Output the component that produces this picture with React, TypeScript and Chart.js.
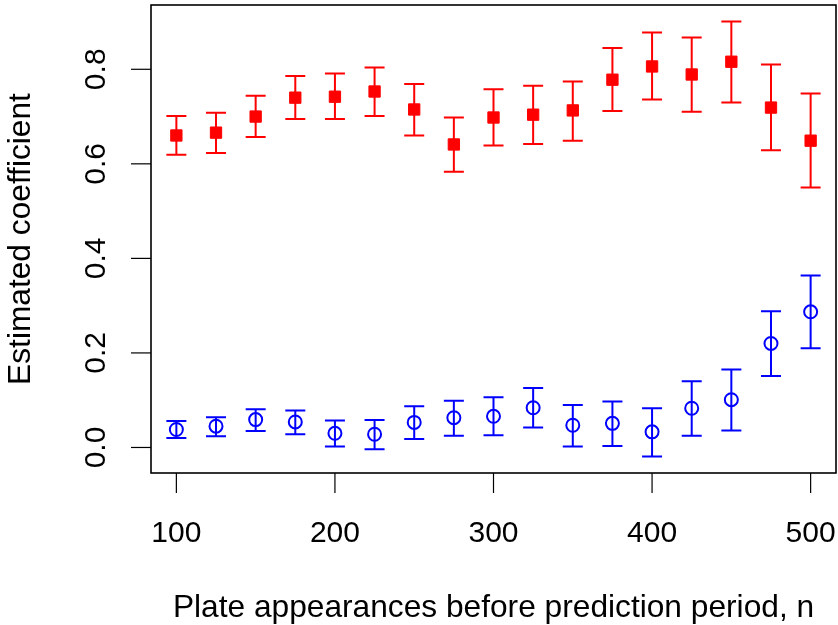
import React, { useEffect, useRef } from "react";
import { Chart, registerables } from "chart.js";

Chart.register(...registerables);

const nValues = [100, 125, 150, 175, 200, 225, 250, 275, 300, 325, 350, 375, 400, 425, 450, 475, 500];

const redEst = [0.660, 0.666, 0.700, 0.740, 0.742, 0.753, 0.715, 0.641, 0.698, 0.704, 0.713, 0.778, 0.806, 0.789, 0.816, 0.719, 0.649];
const redLow = [0.619, 0.623, 0.657, 0.695, 0.695, 0.701, 0.660, 0.583, 0.639, 0.642, 0.649, 0.712, 0.736, 0.710, 0.730, 0.629, 0.550];
const redHigh = [0.701, 0.708, 0.744, 0.786, 0.791, 0.804, 0.769, 0.698, 0.758, 0.765, 0.774, 0.845, 0.878, 0.867, 0.901, 0.810, 0.749];

const blueEst = [0.038, 0.045, 0.059, 0.054, 0.030, 0.028, 0.053, 0.063, 0.066, 0.084, 0.047, 0.051, 0.033, 0.083, 0.101, 0.220, 0.287];
const blueLow = [0.020, 0.024, 0.035, 0.028, 0.002, -0.004, 0.018, 0.025, 0.026, 0.042, 0.002, 0.003, -0.019, 0.025, 0.036, 0.151, 0.210];
const blueHigh = [0.056, 0.064, 0.081, 0.078, 0.057, 0.058, 0.087, 0.099, 0.106, 0.126, 0.090, 0.097, 0.083, 0.140, 0.165, 0.288, 0.364];

const xTicks = [100, 200, 300, 400, 500];
const yTicks = [0, 0.2, 0.4, 0.6, 0.8];
const yTickLabels = ["0.0", "0.2", "0.4", "0.6", "0.8"];

const xTitle = "Plate appearances before prediction period, n";
const yTitle = "Estimated coefficient";

const TICK_FONT = '30px "Liberation Sans", Arial, Helvetica, sans-serif';
const TITLE_FONT = '31.7px "Liberation Sans", Arial, Helvetica, sans-serif';

const errorBarPlugin = {
  id: "errorBars",
  beforeDatasetsDraw(chart: any) {
    const ctx = chart.ctx;
    const xs = chart.scales.x;
    const ys = chart.scales.y;
    const groups = [
      { low: redLow, high: redHigh, color: "#FF0000" },
      { low: blueLow, high: blueHigh, color: "#0000FF" },
    ];
    ctx.save();
    ctx.lineWidth = 2;
    const cap = 10;
    for (const g of groups) {
      ctx.strokeStyle = g.color;
      for (let i = 0; i < nValues.length; i++) {
        const px = xs.getPixelForValue(nValues[i]);
        const pl = ys.getPixelForValue(g.low[i]);
        const ph = ys.getPixelForValue(g.high[i]);
        ctx.beginPath();
        ctx.moveTo(px, pl);
        ctx.lineTo(px, ph);
        ctx.moveTo(px - cap, pl);
        ctx.lineTo(px + cap, pl);
        ctx.moveTo(px - cap, ph);
        ctx.lineTo(px + cap, ph);
        ctx.stroke();
      }
    }
    ctx.restore();
  },
};

const axesPlugin = {
  id: "rAxes",
  afterDraw(chart: any) {
    const ctx = chart.ctx;
    const { left, right, top, bottom } = chart.chartArea;
    const xs = chart.scales.x;
    const ys = chart.scales.y;
    ctx.save();
    ctx.strokeStyle = "#000";
    ctx.fillStyle = "#000";
    ctx.lineWidth = 1.6;
    ctx.strokeRect(left, top, right - left, bottom - top);

    ctx.lineWidth = 1.2;
    ctx.font = TICK_FONT;
    ctx.textAlign = "center";
    ctx.textBaseline = "alphabetic";
    for (const v of xTicks) {
      const px = xs.getPixelForValue(v);
      ctx.beginPath();
      ctx.moveTo(px, bottom);
      ctx.lineTo(px, bottom + 20);
      ctx.stroke();
      ctx.fillText(String(v), px, 541.5);
    }
    for (let i = 0; i < yTicks.length; i++) {
      const py = ys.getPixelForValue(yTicks[i]);
      ctx.beginPath();
      ctx.moveTo(left - 20, py);
      ctx.lineTo(left, py);
      ctx.stroke();
      ctx.save();
      ctx.translate(105, py);
      ctx.rotate(-Math.PI / 2);
      ctx.fillText(yTickLabels[i], 0, 0);
      ctx.restore();
    }
    ctx.font = TITLE_FONT;
    ctx.fillText(xTitle, (left + right) / 2, 617);
    ctx.save();
    ctx.translate(29.5, (top + bottom) / 2);
    ctx.rotate(-Math.PI / 2);
    ctx.fillText(yTitle, 0, 0);
    ctx.restore();
    ctx.restore();
  },
};

export default function App() {
  const ref = useRef<HTMLCanvasElement | null>(null);
  useEffect(() => {
    if (!ref.current) return;
    const chart = new Chart(ref.current, {
      type: "scatter",
      data: {
        datasets: [
          {
            label: "red",
            data: nValues.map((n, i) => ({ x: n, y: redEst[i] })),
            pointStyle: "rect",
            pointRadius: 8,
            pointBackgroundColor: "#FF0000",
            pointBorderColor: "#FF0000",
            pointBorderWidth: 1,
          },
          {
            label: "blue",
            data: nValues.map((n, i) => ({ x: n, y: blueEst[i] })),
            pointStyle: "circle",
            pointRadius: 6.5,
            pointBackgroundColor: "rgba(0,0,0,0)",
            pointBorderColor: "#0000FF",
            pointBorderWidth: 2,
          },
        ],
      },
      options: {
        responsive: false,
        animation: false,
        devicePixelRatio: 1,
        layout: { autoPadding: false, padding: { left: 151, right: 2, top: 5, bottom: 152 } },
        plugins: { legend: { display: false }, tooltip: { enabled: false } },
        scales: {
          x: { type: "linear", min: 84, max: 516, display: false },
          y: { type: "linear", min: -0.054, max: 0.936, display: false },
        },
      },
      plugins: [errorBarPlugin, axesPlugin],
    });
    return () => chart.destroy();
  }, []);
  return (
    <div style={{ position: "absolute", left: 0, top: 0, width: 838, height: 625, background: "#fff" }}>
      <canvas ref={ref} width={838} height={625} style={{ display: "block" }} />
    </div>
  );
}
